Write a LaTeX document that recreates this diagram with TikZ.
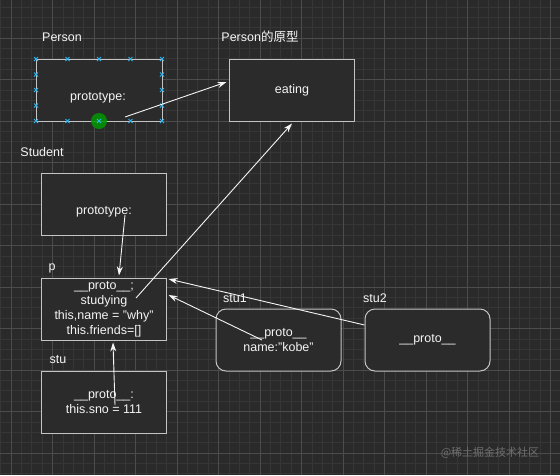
\documentclass[tikz,border=0pt]{standalone}
\usepackage{fontspec}
\setmainfont{Liberation Sans}
\newfontfamily\cjk{Noto Sans CJK SC}
\usetikzlibrary{arrows.meta,calc}
\definecolor{bg}{HTML}{2A2A2A}
\definecolor{gridminor}{HTML}{363636}
\definecolor{gridmajor}{HTML}{4C4C4C}
\definecolor{boxfill}{HTML}{2B2B2B}
\definecolor{boxline}{HTML}{C4C4C4}
\definecolor{txt}{HTML}{F5F5F5}
\definecolor{handle}{HTML}{29B6F2}
\definecolor{wm}{HTML}{6E6E6E}
\tikzset{
  plainbox/.style={draw=boxline, fill=boxfill, line width=1pt, minimum width=125pt, minimum height=62pt, inner sep=0pt},
  roundbox/.style={plainbox, rounded corners=10pt},
  lbl/.style={text=txt, font=\fontsize{12.5}{15}\selectfont, inner sep=0pt, align=center},
  arr/.style={draw=txt, line width=0.9pt, -{Stealth[length=9pt,width=6pt]}},
  hmark/.style={handle, line width=1pt},
}
\begin{document}
\begin{tikzpicture}[x=1pt,y=-1pt]
\useasboundingbox (0,0) rectangle (560,475);
\fill[bg] (0,0) rectangle (560,475);
% grid
\foreach \i in {-1,...,54} {
  \draw[gridminor, line width=0.6pt] ({11+\i*10.375},0) -- ({11+\i*10.375},475);
}
\foreach \i in {0,...,46} {
  \draw[gridminor, line width=0.6pt] (0,{-3.5+\i*10.375}) -- (560,{-3.5+\i*10.375});
}
\foreach \i in {0,...,13} {
  \draw[gridmajor, line width=0.8pt] ({11+\i*41.5},0) -- ({11+\i*41.5},475);
}
\foreach \i in {1,...,11} {
  \draw[gridmajor, line width=0.8pt] (0,{-3.5+\i*41.5}) -- (560,{-3.5+\i*41.5});
}
% boxes
\node[plainbox, minimum width=126pt] (person) at (99,90) {};
\node[plainbox] (orig) at (291.5,90) {};
\node[plainbox] (student) at (103.5,204.5) {};
\node[plainbox] (p) at (103.5,309) {};
\node[plainbox] (stu) at (103.5,402.5) {};
\node[roundbox] (stu1) at (278.5,340) {};
\node[roundbox] (stu2) at (427.5,340) {};
% titles
\node[lbl] (tperson) at (62,37) {Person};
\node[lbl] (torig) at (260,37) {Person{\cjk 的原型}};
\node[lbl] (tstudent) at (42,152) {Student};
\node[lbl] (tp) at (52,268) {p};
\node[lbl] (tstu) at (58,360) {stu};
\node[lbl] (tstu1) at (235,298) {stu1};
\node[lbl] (tstu2) at (375,298) {stu2};
% contents
\node[lbl] (cperson) at (98,98) {prototype:};
\node[lbl] (corig) at (292,90) {eating};
\node[lbl] (cstudent) at (104,212) {prototype:};
\node[lbl] (cp) at (104,309) {\_\_proto\_\_;\\studying\\this,name = "why"\\this.friends=[]};
\node[lbl] (cstu) at (104,402.5) {\_\_proto\_\_:\\this.sno = 111};
\node[lbl] (cstu1) at (278.5,340.5) {\_\_proto\_\_\\name:"kobe"};
\node[lbl] (cstu2) at (427.5,340) {\_\_proto\_\_};
% selection handles on Person
\fill[green!60!black, opacity=0.85] (99,121) circle (8);
\foreach \x/\y in {36/59, 67.5/59, 99/59, 130.5/59, 162/59,
                   36/121, 67.5/121, 99/121, 130.5/121, 162/121,
                   36/74.5, 36/90, 36/105.5, 162/74.5, 162/90, 162/105.5} {
  \draw[hmark] (\x-2,\y-2) -- (\x+2,\y+2) (\x-2,\y+2) -- (\x+2,\y-2);
}
% connector end points
\coordinate (a1) at (125,117);
\coordinate (b1) at (orig.west |- 0,82);
\coordinate (a2) at (125,215);
\coordinate (b2) at (p.north -| 119,0);
\coordinate (a3) at (136,298);
\coordinate (b3) at (orig.south -| 292,0);
\coordinate (a4) at (115,405);
\coordinate (b4) at (p.south -| 113,0);
\coordinate (a5) at (262,340);
\coordinate (b5) at (p.east |- 0,295);
\coordinate (b6) at (p.east |- 0,279);
\coordinate (a6) at (stu2.west |- 0,325);
% connectors
\draw[arr] (a1) -- ($(b1)+(-2,0)$);
\draw[arr] (a2) -- ($(b2)+(0,-2)$);
\draw[arr] (a3) -- ($(b3)+(0,2)$);
\draw[arr] (a4) -- ($(b4)+(0,2)$);
\draw[arr] (a5) -- ($(b5)+(2,0)$);
\draw[arr] (a6) -- ($(b6)+(2,0)$);
% watermark
\node[text=wm, font=\cjk\fontsize{11}{13}\selectfont, inner sep=0pt] (wmark) at (490,453) {@稀土掘金技术社区};
\end{tikzpicture}
\end{document}
